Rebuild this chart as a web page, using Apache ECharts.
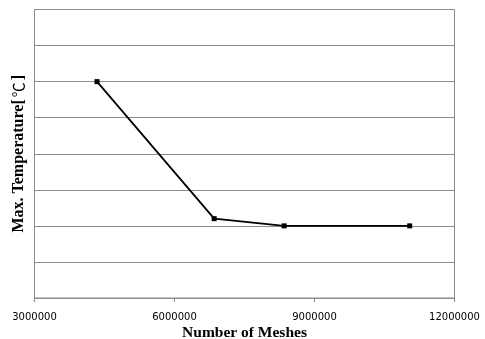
<!DOCTYPE html>
<html><head><meta charset="utf-8">
<script src="https://cdn.jsdelivr.net/npm/echarts@6/dist/echarts.min.js"></script>
<style>html,body{margin:0;padding:0;background:#fff}#c{width:485px;height:339px}</style>
</head><body><div id="c"></div>
<script>
const meshes = [4340000, 6850000, 8350000, 11040000];
const maxTemp = [6, 2.2, 2, 2];
const xTicks = [3000000, 6000000, 9000000, 12000000];

const chart = echarts.init(document.getElementById('c'), null, {renderer: 'canvas'});
chart.setOption({
  animation: false,
  backgroundColor: '#fff',
  grid: {left: 34.5, right: 30.5, top: 9.5, bottom: 41, show: true, borderColor: '#8c8c8c', borderWidth: 1,
         containLabel: false, outerBoundsMode: 'none'},
  xAxis: {
    type: 'value', min: xTicks[0], max: xTicks[xTicks.length - 1], interval: 3000000,
    name: 'Number of Meshes', nameLocation: 'middle', nameGap: 26.5, nameMoveOverlap: false,
    nameTextStyle: {fontFamily: 'Liberation Serif', fontWeight: 'bold', fontSize: 15.5, color: '#000'},
    axisLine: {show: true, lineStyle: {color: '#8c8c8c', width: 1}},
    axisTick: {show: true, length: 4, lineStyle: {color: '#8c8c8c'}},
    axisLabel: {fontFamily: 'DejaVu Sans', fontSize: 10, color: '#000', margin: 14,
                formatter: v => String(v)},
    splitLine: {show: false}
  },
  yAxis: {
    type: 'value', min: 0, max: 8, interval: 1,
    name: 'Max. Temperature[{c|℃}]', nameLocation: 'middle', nameGap: 8, nameRotate: 90,
    nameTextStyle: {fontFamily: 'Liberation Serif', fontWeight: 'bold', fontSize: 16, color: '#000',
      rich: {c: {fontFamily: 'Noto Sans CJK KR', fontWeight: 'normal', fontSize: 15, color: '#000', padding: [0, 2, 0, 2]}}},
    axisLine: {show: true, lineStyle: {color: '#8c8c8c', width: 1}},
    axisTick: {show: false},
    axisLabel: {show: false},
    splitLine: {show: true, lineStyle: {color: '#8c8c8c', width: 1}}
  },
  series: [{
    type: 'line',
    data: meshes.map((m, i) => [m, maxTemp[i]]),
    symbol: 'rect', symbolSize: 5,
    lineStyle: {color: '#000', width: 1.8},
    itemStyle: {color: '#000'}
  }]
});
</script></body></html>
